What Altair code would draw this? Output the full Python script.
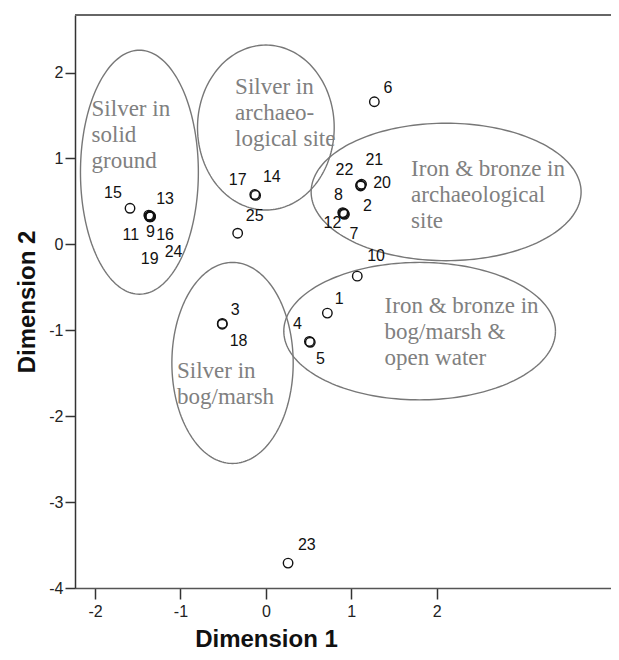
import altair as alt
import numpy as np
import pandas as pd

# ---- data ----
point_ids = [str(i) for i in range(1, 26)]
dim1 = [0.72, 0.91, -0.51, 0.51, 0.52, 1.27, 0.92, 0.90, -1.36, 1.07,
        -1.37, 0.91, -1.35, -0.12, -1.59, -1.36, -0.13, -0.51, -1.36, 1.11,
        1.12, 1.11, 0.26, -1.35, -0.33]
dim2 = [-0.80, 0.36, -0.92, -1.13, -1.14, 1.66, 0.35, 0.37, 0.33, -0.37,
        0.34, 0.36, 0.33, 0.57, 0.42, 0.32, 0.58, -0.93, 0.33, 0.69,
        0.70, 0.68, -3.71, 0.32, 0.13]
# where each number label sits
label_x = [0.86, 1.19, -0.36, 0.37, 0.64, 1.43, 1.03, 0.85, -1.35, 1.29,
           -1.58, 0.78, -1.18, 0.07, -1.79, -1.18, -0.33, -0.32, -1.36, 1.36,
           1.27, 0.92, 0.48, -1.08, -0.13]
label_y = [-0.64, 0.45, -0.76, -0.93, -1.34, 1.82, 0.12, 0.58, 0.14, -0.14,
           0.11, 0.25, 0.53, 0.78, 0.60, 0.11, 0.75, -1.13, -0.17, 0.72,
           0.98, 0.87, -3.50, -0.09, 0.33]

# group ellipses: centre and radii (data units)
group_names = ["Silver in\nsolid\nground",
               "Silver in\narchaeo-\nlogical site",
               "Iron & bronze in\narchaeological\nsite",
               "Silver in\nbog/marsh",
               "Iron & bronze in\nbog/marsh &\nopen water"]
ell_cx = [-1.48, 0.00, 2.11, -0.39, 1.80]
ell_cy = [0.84, 1.36, 0.61, -1.38, -1.01]
ell_rx = [0.69, 0.80, 1.58, 0.71, 1.59]
ell_ry = [1.42, 0.96, 0.80, 1.17, 0.80]
# left edge / first-line centre of each group caption
text_x = [-2.04, -0.36, 1.70, -1.04, 1.39]
text_y = [1.57, 1.83, 0.88, -1.47, -0.72]

x_ticks = [-2, -1, 0, 1, 2]
y_ticks = [-4, -3, -2, -1, 0, 1, 2]
X_DOMAIN = [-2.234, 4.04]
Y_DOMAIN = [-4.0, 2.67]

W, H = 536, 573

pts = pd.DataFrame({"id": point_ids, "d1": dim1, "d2": dim2})
labs = pd.DataFrame({"id": point_ids, "lx": label_x, "ly": label_y})

rows = []
t = np.linspace(0, 2 * np.pi, 181)
for g, (cx, cy, rx, ry) in enumerate(zip(ell_cx, ell_cy, ell_rx, ell_ry)):
    for k, tt in enumerate(t):
        rows.append({"g": g, "k": k, "ex": cx + rx * np.cos(tt), "ey": cy + ry * np.sin(tt)})
ell = pd.DataFrame(rows)
txt = pd.DataFrame({"name": group_names, "tx": text_x, "ty": text_y})

xs = alt.Scale(domain=X_DOMAIN, nice=False, zero=False)
ys = alt.Scale(domain=Y_DOMAIN, nice=False, zero=False)

x_axis = alt.Axis(values=x_ticks, labelExpr="toString(datum.value)", title="Dimension 1",
                  grid=False, domainColor="#555555", domainWidth=1.5, tickColor="#333333",
                  tickWidth=1.5, tickSize=11, labelPadding=4, labelFontSize=16,
                  labelFont="Liberation Sans", labelColor="#222222",
                  titleFont="Liberation Sans", titleFontSize=24, titleFontWeight="bold",
                  titleColor="#111111", titleX=191, titleY=51, titleBaseline="middle",
                  titleAnchor="middle")
y_axis = alt.Axis(values=y_ticks, labelExpr="toString(datum.value)", title="Dimension 2",
                  grid=False, domainColor="#333333", domainWidth=1.5, tickColor="#333333",
                  tickWidth=1.5, tickSize=10, labelPadding=2, labelFontSize=16,
                  labelFont="Liberation Sans", labelColor="#222222",
                  titleFont="Liberation Sans", titleFontSize=24, titleFontWeight="bold",
                  titleColor="#111111", titleX=-48, titleY=H / 2, titleAngle=-90,
                  titleBaseline="middle", titleAlign="center")

frame_top = alt.Chart(pd.DataFrame({"a": [0]})).mark_rule(
    color="#666666", strokeWidth=2).encode(
    x=alt.value(0), x2=alt.value(W), y=alt.value(0))

ellipses = alt.Chart(ell).mark_line(color="#777777", strokeWidth=1.4).encode(
    x=alt.X("ex:Q", scale=xs, axis=x_axis),
    y=alt.Y("ey:Q", scale=ys, axis=y_axis),
    detail="g:N", order="k:Q")

group_text = alt.Chart(txt).mark_text(
    font="Liberation Serif", fontSize=23, color="#808080", align="left",
    baseline="middle", lineBreak="\n", lineHeight=26).encode(
    x=alt.X("tx:Q", scale=xs), y=alt.Y("ty:Q", scale=ys), text="name:N")

points = alt.Chart(pts).mark_point(
    shape="circle", filled=False, color="#111111", size=90, strokeWidth=1.4,
    opacity=1).encode(
    x=alt.X("d1:Q", scale=xs), y=alt.Y("d2:Q", scale=ys))

point_labels = alt.Chart(labs).mark_text(
    font="Liberation Sans", fontSize=16, color="#111111", align="center",
    baseline="middle").encode(
    x=alt.X("lx:Q", scale=xs), y=alt.Y("ly:Q", scale=ys), text="id:N")

chart = alt.layer(ellipses, frame_top, group_text, points, point_labels).properties(
    width=W, height=H,
    autosize=alt.AutoSizeParams(type="none"),
    padding={"left": 67, "top": 7, "right": 0, "bottom": 64},
).configure_view(stroke=None).configure(background="white")

chart.save("out.html", embed_options={"renderer": "svg", "actions": False})
